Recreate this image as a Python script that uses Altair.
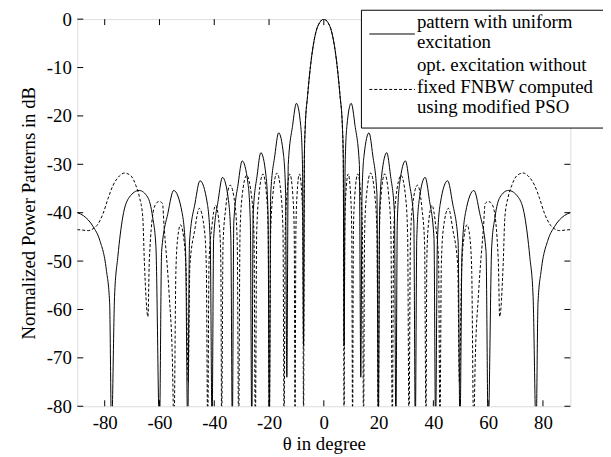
import altair as alt
import pandas as pd

# ---------------- data ----------------
uniform_theta = [
    -90, -87.8, -84.2, -81.8, -79.4, -78.2, -77.5,
    -76.4, -75.2, -73.4, -71.0, -67.4, -64.3, -62.5, -61.3, -60.0,
    -59.22, -56.88, -54.8, -51.74, -50.47, -49.7,
    -49.03, -47.0, -45.2, -42.56, -41.46, -40.8,
    -40.23, -38.52, -37.0, -34.84, -33.94, -33.4,
    -32.86, -31.24, -29.8, -27.7, -26.83, -26.3,
    -25.8, -24.32, -23.0, -21.14, -20.37, -19.9,
    -19.39, -17.86, -16.5, -14.7, -13.95, -13.5,
    -12.98, -11.4, -10.0, -8.44, -7.79, -7.4,
    -7.1, -6.8, -5.9, -4.7, -2.9, -1.5, 0, 1.5, 2.9, 4.7, 5.9, 6.8, 7.1,
    7.4, 7.79, 8.44, 10.0, 11.4, 12.98,
    13.5, 13.95, 14.7, 16.5, 17.86, 19.39,
    19.9, 20.37, 21.14, 23.0, 24.32, 25.8,
    26.3, 26.83, 27.7, 29.8, 31.24, 32.86,
    33.4, 33.94, 34.84, 37.0, 38.52, 40.23,
    40.8, 41.46, 42.56, 45.2, 47.0, 49.03,
    49.7, 50.47, 51.74, 54.8, 56.88, 59.22,
    60.0, 61.3, 62.5, 64.3, 67.4, 71.0, 73.4, 75.2, 76.4,
    77.5, 78.2, 79.4, 81.8, 84.2, 87.8, 90,
]
uniform_db = [
    -40, -40.6, -42.9, -45.7, -51.8, -58.6, -85,
    -57.3, -49.1, -40.9, -36.8, -35.4, -36.8, -40.9, -47, -85,
    -48, -40, -35.4, -40, -48, -85,
    -46, -38, -33.4, -38, -46, -85,
    -45.3, -37.3, -32.7, -37.3, -45.3, -85,
    -41.9, -33.9, -29.3, -33.9, -41.9, -85,
    -40.2, -32.2, -27.6, -32.2, -40.2, -85,
    -36.1, -28.1, -23.5, -28.1, -36.1, -74,
    -30, -22, -17.4, -22, -30, -67.5,
    -28.6, -22.5, -15.7, -8.9, -2.7, -0.7, 0, -0.7, -2.7, -8.9, -15.7, -22.5, -28.6,
    -67.5, -30, -22, -17.4, -22, -30,
    -74, -36.1, -28.1, -23.5, -28.1, -36.1,
    -85, -40.2, -32.2, -27.6, -32.2, -40.2,
    -85, -41.9, -33.9, -29.3, -33.9, -41.9,
    -85, -45.3, -37.3, -32.7, -37.3, -45.3,
    -85, -46, -38, -33.4, -38, -46,
    -85, -48, -40, -35.4, -40, -48,
    -85, -47, -40.9, -36.8, -35.4, -36.8, -40.9, -49.1, -57.3,
    -85, -58.6, -51.8, -45.7, -42.9, -40.6, -40,
]

opt_theta = [
    -90, -88, -86, -84.2, -82.4, -80.6, -78.8, -77.0, -74.6, -72.8, -70.4, -68.6, -67.3, -66.1, -65.5, -64.2,
    -63.7, -61.9, -60.7, -60.0, -58.9, -58.3, -56.5, -55.3, -54.7,
    -54.0, -53.3, -52.3, -51.2, -50.3, -49.5,
    -48.9, -47.1, -45.5, -43.6, -42.9, -42.4,
    -41.9, -40.9, -39.5, -38.1, -37.6, -37.3,
    -36.8, -35.8, -34.2, -32.3, -31.6, -31.1,
    -30.6, -29.9, -28.2, -26.3, -25.5, -25.0,
    -24.5, -23.7, -22.2, -20.9, -20.3, -19.9,
    -19.4, -18.6, -17.1, -15.6, -14.9, -14.5,
    -14.1, -13.5, -12.4, -11.3, -10.8, -10.5,
    -10.2, -9.8, -8.9, -8.0, -7.65, -7.4,
    -7.1, -6.8, -5.9, -4.7, -2.9, -1.5, 0, 1.5, 2.9, 4.7, 5.9, 6.8, 7.1,
    7.4, 7.65, 8.0, 8.9, 9.8, 10.2,
    10.5, 10.8, 11.3, 12.4, 13.5, 14.1,
    14.5, 14.9, 15.6, 17.1, 18.6, 19.4,
    19.9, 20.3, 20.9, 22.2, 23.7, 24.5,
    25.0, 25.5, 26.3, 28.2, 29.9, 30.6,
    31.1, 31.6, 32.3, 34.2, 35.8, 36.8,
    37.3, 37.6, 38.1, 39.5, 40.9, 41.9,
    42.4, 42.9, 43.6, 45.5, 47.1, 48.9,
    49.5, 50.3, 51.2, 52.3, 53.3, 54.0,
    54.7, 55.3, 56.5, 58.3, 58.9, 60.0, 60.7, 61.9, 63.7,
    64.2, 65.5, 66.1, 67.3, 68.6, 70.4, 72.8, 74.6, 77.0, 78.8, 80.6, 82.4, 84.2, 86, 88, 90,
]
opt_db = [
    -43.5, -43.6, -43.7, -43.3, -42.3, -40.2, -37.1, -34.4, -32.4, -31.8, -32.4, -34.4, -36.8, -40.9, -50.4, -61.5,
    -49.8, -38.9, -37.8, -37.7, -38.1, -42.9, -56.6, -70, -85,
    -52, -45, -42.5, -45, -52, -75,
    -51, -43.5, -39.1, -43.5, -51, -85,
    -50, -43, -38.5, -43, -50, -85,
    -46.5, -39, -34.3, -39, -46.5, -85,
    -44.5, -37, -32.3, -37, -44.5, -85,
    -44, -36.5, -32, -36.5, -44, -85,
    -44, -36.3, -31.8, -36.3, -44, -85,
    -44, -36.5, -32, -36.5, -44, -85,
    -44, -36.5, -32, -36.5, -44, -85,
    -28.6, -22.5, -15.7, -8.9, -2.7, -0.7, 0, -0.7, -2.7, -8.9, -15.7, -22.5, -28.6,
    -85, -44, -36.5, -32, -36.5, -44,
    -85, -44, -36.5, -32, -36.5, -44,
    -85, -44, -36.3, -31.8, -36.3, -44,
    -85, -44, -36.5, -32, -36.5, -44,
    -85, -44.5, -37, -32.3, -37, -44.5,
    -85, -46.5, -39, -34.3, -39, -46.5,
    -85, -50, -43, -38.5, -43, -50,
    -85, -51, -43.5, -39.1, -43.5, -51,
    -75, -52, -45, -42.5, -45, -52,
    -85, -70, -56.6, -42.9, -38.1, -37.7, -37.8, -38.9, -49.8,
    -61.5, -50.4, -40.9, -36.8, -34.4, -32.4, -31.8, -32.4, -34.4, -37.1, -40.2, -42.3, -43.3, -43.7, -43.6, -43.5,
]

x_ticks = [-80, -60, -40, -20, 0, 20, 40, 60, 80]
y_ticks = [0, -10, -20, -30, -40, -50, -60, -70, -80]

legend_uniform = ["pattern with uniform", "excitation"]
legend_opt = ["opt. excitation without", "fixed FNBW computed", "using modified PSO"]

# ---------------- chart ----------------
W, H = 498, 391
FONT = "Liberation Serif"
FS = 19

x_scale = alt.Scale(domain=[-90, 90], nice=False, zero=False)
y_scale = alt.Scale(domain=[-80, 0], nice=False, zero=False)

x_axis = alt.Axis(
    values=x_ticks, ticks=False, tickSize=0, domain=False, grid=False,
    labelFont=FONT, labelFontSize=FS, labelColor="black", labelPadding=7,
    labelExpr="'' + datum.value",
    title="θ in degree", titleFont=FONT, titleFontSize=FS, titleFontWeight="normal",
    titleColor="black", titleX=W / 2, titleY=38, titleAlign="center", titleBaseline="middle",
)
y_axis = alt.Axis(
    values=y_ticks, ticks=False, tickSize=0, domain=False, grid=False,
    labelFont=FONT, labelFontSize=FS, labelColor="black", labelPadding=6,
    labelExpr="'' + datum.value",
    title="Normalized Power Patterns in dB", titleFont=FONT, titleFontSize=FS,
    titleFontWeight="normal", titleColor="black", titleX=-49, titleY=H / 2,
    titleAngle=270, titleAlign="center", titleBaseline="middle",
)

df_u = pd.DataFrame({"theta": uniform_theta, "db": uniform_db})
df_o = pd.DataFrame({"theta": opt_theta, "db": opt_db})

X = alt.X("theta:Q", scale=x_scale, axis=x_axis)
Y = alt.Y("db:Q", scale=y_scale, axis=y_axis)

uni = alt.Chart(df_u).mark_line(color="black", strokeWidth=1, clip=True,
                                interpolate="monotone").encode(x=X, y=Y)
opt = alt.Chart(df_o).mark_line(color="black", strokeWidth=1, clip=True,
                                strokeDash=[3, 2], interpolate="monotone").encode(x=X, y=Y)

dfx = pd.DataFrame({"theta": x_ticks})
dfy = pd.DataFrame({"db": y_ticks})
TL = 6
tick_b = alt.Chart(dfx).mark_rule(color="black", strokeWidth=1).encode(
    x=X, y=alt.value(H), y2=alt.value(H - TL))
tick_t = alt.Chart(dfx).mark_rule(color="black", strokeWidth=1).encode(
    x=X, y=alt.value(0), y2=alt.value(TL))
tick_l = alt.Chart(dfy).mark_rule(color="black", strokeWidth=1).encode(
    y=Y, x=alt.value(0), x2=alt.value(TL))
tick_r = alt.Chart(dfy).mark_rule(color="black", strokeWidth=1).encode(
    y=Y, x=alt.value(W), x2=alt.value(W - TL))

one = pd.DataFrame({"k": [0]})
leg_box = alt.Chart(one).mark_rect(fill="white", stroke="black", strokeWidth=1).encode(
    x=alt.value(287), x2=alt.value(534), y=alt.value(-9), y2=alt.value(110))
leg_l1 = alt.Chart(one).mark_rule(color="black", strokeWidth=1).encode(
    x=alt.value(295), x2=alt.value(341), y=alt.value(15))
leg_l2 = alt.Chart(one).mark_rule(color="black", strokeWidth=1, strokeDash=[3, 2]).encode(
    x=alt.value(295), x2=alt.value(341), y=alt.value(71))

text_layers = []
for txt, yy in zip(legend_uniform + legend_opt, [3, 23, 46, 69, 89]):
    text_layers.append(
        alt.Chart(one).mark_text(text=txt, align="left", baseline="middle", font=FONT,
                                 fontSize=FS, color="black").encode(
            x=alt.value(343), y=alt.value(yy)))

chart = alt.layer(uni, opt, tick_b, tick_t, tick_l, tick_r, leg_box, leg_l1, leg_l2,
                  *text_layers).properties(
    width=W, height=H,
    padding={"left": 70, "top": 9, "right": 33, "bottom": 48},
    autosize=alt.AutoSizeParams(type="none"),
).configure_view(stroke="black", strokeWidth=1).configure(background="white")

chart.save("out.html", embed_options={"renderer": "svg", "actions": False})
